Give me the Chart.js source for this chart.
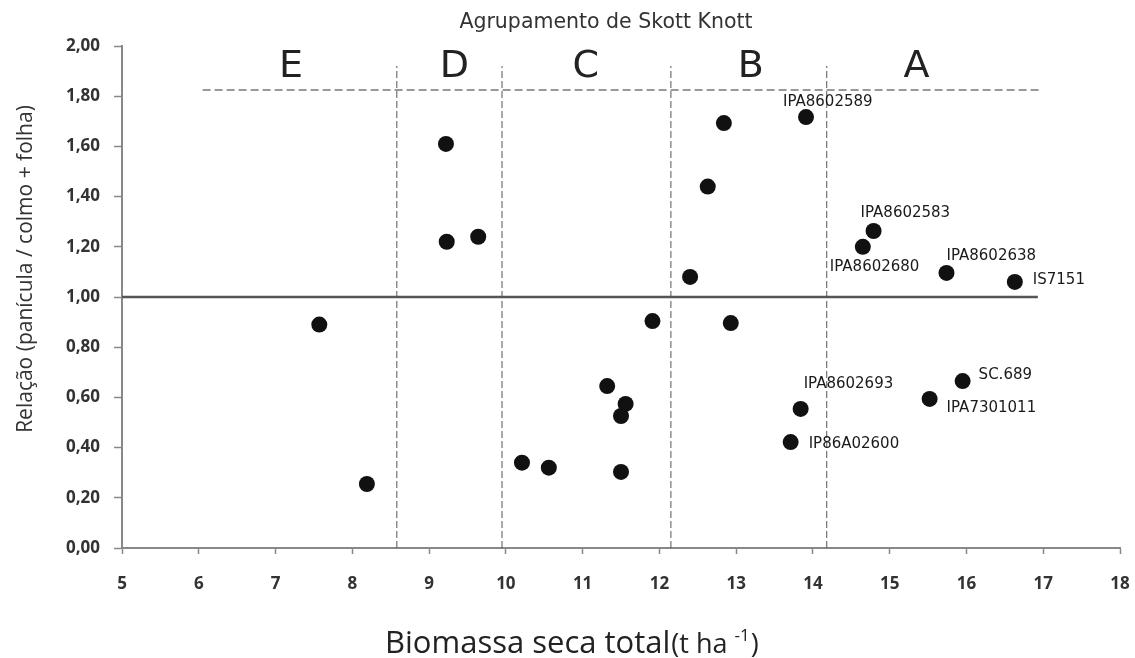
<!DOCTYPE html>
<html>
<head>
<meta charset="utf-8">
<script src="https://cdn.jsdelivr.net/npm/chart.js@4.4.0/dist/chart.umd.min.js"></script>
<style>
  body { margin: 0; background: #fff; }
  #wrap { width: 1135px; height: 658px; }
</style>
</head>
<body>
<div id="wrap"><canvas id="chart" width="1135" height="658"></canvas></div>
<script>
// biomassa (t/ha) x relação panícula/(colmo+folha)
const biomassa = [7.57, 8.19, 9.22, 9.23, 9.64, 10.21, 10.56, 11.32, 11.56, 11.50, 11.50, 11.91, 12.40,
                  12.63, 12.84, 12.93, 13.91, 14.79, 14.65, 15.74, 16.63, 15.95, 15.52, 13.84, 13.71];
const relacao = [0.89, 0.255, 1.61, 1.22, 1.24, 0.34, 0.32, 0.645, 0.574, 0.526, 0.303, 0.904, 1.08,
                 1.44, 1.693, 0.896, 1.717, 1.263, 1.20, 1.096, 1.06, 0.665, 0.594, 0.554, 0.422];
const genotipos = ['', '', '', '', '', '', '', '', '', '', '', '', '',
                   '', '', '', 'IPA8602589', 'IPA8602583', 'IPA8602680', 'IPA8602638', 'IS7151',
                   'SC.689', 'IPA7301011', 'IPA8602693', 'IP86A02600'];

// grupos Skott Knott
const grupos = ['E', 'D', 'C', 'B', 'A'];
const grupoCentro = [7.2, 9.33, 11.04, 13.19, 15.35];
const limitesGrupo = [8.58, 9.95, 12.15, 14.18];
const topoGrupo = 1.825;
const faixaTopo = [6.05, 16.95];
const referencia = 1.0;
const fimReferencia = 16.93;

const yTicks = [0, 0.2, 0.4, 0.6, 0.8, 1.0, 1.2, 1.4, 1.6, 1.8, 2.0];

// label offsets in px (text left, middle)
const labelOffsets = {
    'IPA8602589': [-23, -15],
    'IPA8602583': [-13, -18],
    'IPA8602680': [-33, 20],
    'IPA8602638': [0, -17],
    'IS7151': [18, -2],
    'SC.689': [16, -6],
    'IPA7301011': [17, 9],
    'IPA8602693': [3, -25],
    'IP86A02600': [18, 2]
};

const pontos = biomassa.map((x, i) => ({ x, y: relacao[i] }));

const lineDatasets = [];
lineDatasets.push({
    type: 'line',
    data: [{ x: 5, y: referencia }, { x: fimReferencia, y: referencia }],
    borderColor: '#555',
    borderWidth: 2.5,
    pointRadius: 0,
    order: 2
});
lineDatasets.push({
    type: 'line',
    data: [{ x: faixaTopo[0], y: topoGrupo }, { x: faixaTopo[1], y: topoGrupo }],
    borderColor: '#777',
    borderWidth: 1.5,
    borderDash: [8, 4],
    pointRadius: 0,
    order: 2
});
limitesGrupo.forEach(b => {
    lineDatasets.push({
        type: 'line',
        data: [{ x: b, y: 0 }, { x: b, y: 1.92 }],
        borderColor: '#555',
        borderWidth: 1,
        borderDash: [7, 3],
        pointRadius: 0,
        order: 2
    });
});

const textPlugin = {
    id: 'textos',
    afterDraw(chart) {
        const ctx = chart.ctx;
        const xs = chart.scales.x, ys = chart.scales.y;
        ctx.save();
        // title
        ctx.fillStyle = '#333';
        ctx.font = '20.5px "DejaVu Sans"';
        ctx.textAlign = 'center';
        ctx.textBaseline = 'middle';
        ctx.fillText('Agrupamento de Skott Knott', 606, 23);

        // group letters
        ctx.font = '38px "DejaVu Sans"';
        ctx.fillStyle = '#222';
        grupos.forEach((g, i) => {
            ctx.fillText(g, xs.getPixelForValue(grupoCentro[i]), 67);
        });

        // y title
        ctx.save();
        ctx.translate(26, 269);
        ctx.rotate(-Math.PI / 2);
        ctx.font = '21px "Open Sans"';
        ctx.fillStyle = '#333';
        ctx.fillText('Relação (panícula / colmo + folha)', 0, 0);
        ctx.restore();

        // point labels
        ctx.font = '15px "DejaVu Sans"';
        ctx.textAlign = 'left';
        ctx.fillStyle = '#1a1a1a';
        genotipos.forEach((n, i) => {
            if (!n) return;
            const off = labelOffsets[n] || [10, 0];
            ctx.fillText(n, xs.getPixelForValue(biomassa[i]) + off[0], ys.getPixelForValue(relacao[i]) + off[1]);
        });

        // x title
        ctx.fillStyle = '#222';
        ctx.textBaseline = 'alphabetic';
        ctx.textAlign = 'left';
        const big = '31px "Open Sans"';
        const small = '27px "Liberation Sans Narrow", "Open Sans"';
        const sup = '17px "Liberation Sans Narrow", "Open Sans"';
        let x = 385;
        ctx.font = big;
        ctx.fillText('Biomassa seca total', x, 653);
        x += ctx.measureText('Biomassa seca total').width + 1;
        ctx.font = small;
        ctx.fillText('(t ha ', x, 653);
        x += ctx.measureText('(t ha ').width;
        ctx.font = sup;
        ctx.fillText('-1', x, 641);
        x += ctx.measureText('-1').width + 1;
        ctx.font = small;
        ctx.fillText(')', x, 653);
        ctx.restore();
    }
};

const ctx = document.getElementById('chart').getContext('2d');
const myChart = new Chart(ctx, {
    type: 'scatter',
    data: {
        datasets: [{
            data: pontos,
            backgroundColor: '#111',
            borderWidth: 0,
            pointRadius: 8,
            order: 1
        }, ...lineDatasets]
    },
    options: {
        responsive: false,
        animation: false,
        layout: { padding: { top: 46, right: 15, left: 0, bottom: 0 } },
        plugins: {
            legend: { display: false },
            tooltip: { enabled: false }
        },
        scales: {
            x: {
                type: 'linear',
                min: 5,
                max: 18,
                afterFit: s => { s.height = 110; s.paddingRight = 0; s.paddingLeft = 0; },
                ticks: {
                    stepSize: 1,
                    padding: 20,
                    color: '#333',
                    font: { family: 'Open Sans', weight: 'bold', size: 17 }
                },
                grid: { drawOnChartArea: false, tickLength: 6, color: '#888', tickWidth: 1.5 },
                border: { color: '#888', width: 2 }
            },
            y: {
                min: 0,
                max: 2,
                afterFit: s => { s.width = 122; },
                afterBuildTicks: s => { s.ticks = yTicks.map(v => ({ value: v })); },
                ticks: {
                    padding: 14,
                    color: '#333',
                    font: { family: 'Open Sans', weight: 'bold', size: 17 },
                    callback: v => v.toFixed(2).replace('.', ',')
                },
                grid: { drawOnChartArea: false, tickLength: 8, color: '#888', tickWidth: 1.5 },
                border: { color: '#888', width: 2 }
            }
        }
    },
    plugins: [textPlugin]
});
</script>
</body>
</html>
